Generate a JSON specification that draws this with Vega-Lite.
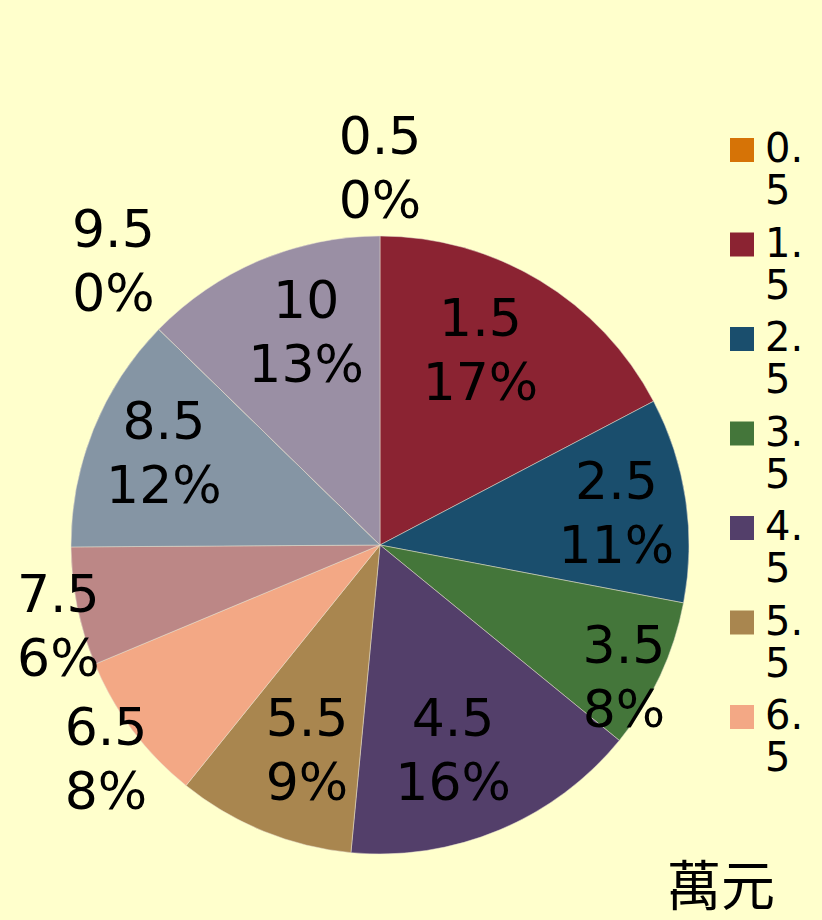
{
  "$schema": "https://vega.github.io/schema/vega-lite/v6.json",
  "width": 744,
  "height": 750,
  "autosize": {"type": "none"},
  "padding": {"left": 8, "top": 170, "right": 70, "bottom": 0},
  "background": "#FFFFCC",
  "config": {
    "view": {"stroke": null},
    "text": {"font": "DejaVu Sans", "fontSize": 52, "lineBreak": "\n", "lineHeight": 64, "dy": -27, "color": "#000000"}
  },
  "title": {"text": "萬元", "orient": "bottom", "anchor": "end", "frame": "group", "offset": -57, "dx": 23, "font": "Noto Sans CJK TC", "fontSize": 54, "fontWeight": "normal", "color": "#000000"},
  "data": {
    "values": [
      {"k": 0.5, "v": 0},
      {"k": 1.5, "v": 17.3},
      {"k": 2.5, "v": 10.7},
      {"k": 3.5, "v": 7.9},
      {"k": 4.5, "v": 15.6},
      {"k": 5.5, "v": 9.3},
      {"k": 6.5, "v": 7.9},
      {"k": 7.5, "v": 6.2},
      {"k": 8.5, "v": 12.4},
      {"k": 9.5, "v": 0},
      {"k": 10, "v": 12.7}
    ]
  },
  "transform": [
    {"stack": "v", "groupby": [], "sort": [{"field": "k", "order": "ascending"}], "as": ["v0", "v1"]},
    {"calculate": "(datum.v0 + datum.v1) / 2", "as": "mid"},
    {"calculate": "datum.k + '\\n' + round(datum.v) + '%'", "as": "lab"}
  ],
  "encoding": {
    "theta": {"field": "mid", "type": "quantitative", "stack": null, "scale": {"domain": [0, 100]}},
    "text": {"field": "lab"}
  },
  "layer": [
    {
      "mark": {"type": "arc", "outerRadius": 309, "stroke": "#e6e0d0", "strokeWidth": 0.5},
      "encoding": {
        "theta": {"field": "v0", "type": "quantitative", "scale": {"domain": [0, 100]}},
        "theta2": {"field": "v1"},
        "text": null,
        "color": {
          "field": "k",
          "type": "ordinal",
          "scale": {
            "domain": [0.5, 1.5, 2.5, 3.5, 4.5, 5.5, 6.5, 7.5, 8.5, 9.5, 10],
            "range": ["#D67306", "#8B2332", "#1A4E6D", "#44763A", "#533F6A", "#A9864F", "#F3A885", "#BC8786", "#8595A4", "#8FA0B6", "#9A8FA4"]
          },
          "legend": {
            "orient": "none",
            "legendX": 714,
            "legendY": -40,
            "title": null,
            "values": [0.5, 1.5, 2.5, 3.5, 4.5, 5.5, 6.5],
            "symbolType": "square",
            "symbolSize": 576,
            "symbolStrokeWidth": 0,
            "symbolOpacity": 1,
            "labelFont": "DejaVu Sans",
            "labelFontSize": 40,
            "labelColor": "#000000",
            "labelExpr": "[substring(datum.label,0,2), substring(datum.label,2)]",
            "labelBaseline": "middle",
            "labelOffset": 3,
            "rowPadding": 12.5,
            "padding": 0
          }
        }
      }
    },
    {"transform": [{"filter": "datum.k == 0.5"}], "mark": {"type": "text", "radius": 380}},
    {"transform": [{"filter": "datum.k == 1.5"}], "mark": {"type": "text", "radius": 222, "thetaOffset": -0.074}},
    {"transform": [{"filter": "datum.k == 2.5"}], "mark": {"type": "text", "radius": 239}},
    {"transform": [{"filter": "datum.k == 3.5"}], "mark": {"type": "text", "radius": 276, "thetaOffset": 0.05}},
    {"transform": [{"filter": "datum.k == 4.5"}], "mark": {"type": "text", "radius": 215, "thetaOffset": 0.049}},
    {"transform": [{"filter": "datum.k == 5.5"}], "mark": {"type": "text", "radius": 215, "thetaOffset": -0.04}},
    {"transform": [{"filter": "datum.k == 6.5"}], "mark": {"type": "text", "radius": 346, "thetaOffset": -0.013}},
    {"transform": [{"filter": "datum.k == 7.5"}], "mark": {"type": "text", "radius": 331, "thetaOffset": -0.037}},
    {"transform": [{"filter": "datum.k == 8.5"}], "mark": {"type": "text", "radius": 236, "thetaOffset": 0.03}},
    {"transform": [{"filter": "datum.k == 9.5"}], "mark": {"type": "text", "radius": 392, "thetaOffset": 0.05}},
    {"transform": [{"filter": "datum.k == 10"}], "mark": {"type": "text", "radius": 228, "thetaOffset": 0.069}}
  ]
}
